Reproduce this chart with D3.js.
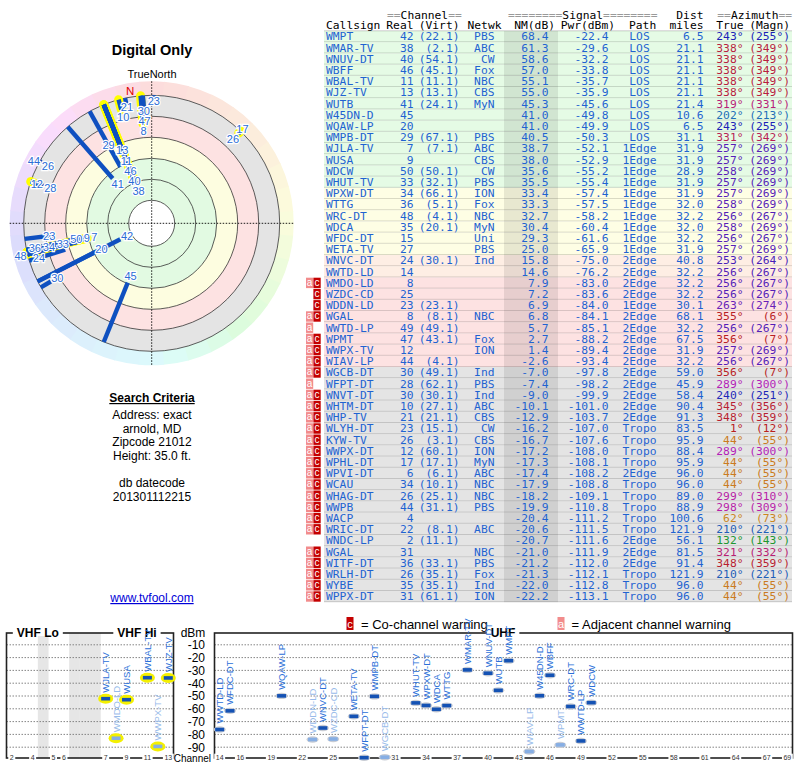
<!DOCTYPE html>
<html><head><meta charset="utf-8">
<script src="https://cdn.jsdelivr.net/npm/d3@7"></script>
<style>body{margin:0;background:#fff}svg{display:block}</style>
</head><body><svg id="c" width="800" height="768"></svg>
<script>
// ---------------- DATA ----------------
const callsigns = ["WMPT","WMAR-TV","WNUV-DT","WBFF","WBAL-TV","WJZ-TV","WUTB","W45DN-D","WQAW-LP","WMPB-DT","WJLA-TV","WUSA","WDCW","WHUT-TV","WPXW-DT","WTTG","WRC-DT","WDCA","WFDC-DT","WETA-TV","WNVC-DT","WWTD-LD","WMDO-LD","WZDC-CD","WDDN-LD","WGAL","WWTD-LP","WPMT","WWPX-TV","WIAV-LP","WGCB-DT","WFPT-DT","WNVT-DT","WHTM-DT","WHP-TV","WLYH-DT","KYW-TV","WWPX-DT","WPHL-DT","WPVI-DT","WCAU","WHAG-DT","WWPB","WACP","WRIC-DT","WNDC-LP","WGAL","WITF-DT","WRLH-DT","WYBE","WPPX-DT"];
const realCh = [42,38,40,46,11,13,41,45,20,29,7,9,50,33,34,36,48,35,15,27,24,14,8,25,23,8,49,47,12,44,30,28,30,10,21,23,26,12,17,6,34,26,44,4,22,2,31,36,26,35,31];
const virtCh = ["22.1","2.1","54.1","45.1","11.1","13.1","24.1","","","67.1","7.1","","50.1","32.1","66.1","5.1","4.1","20.1","","","30.1","","","","23.1","8.1","49.1","43.1","","4.1","49.1","62.1","30.1","27.1","21.1","15.1","3.1","60.1","17.1","6.1","10.1","25.1","31.1","","8.1","11.1","","33.1","35.1","35.1","61.1"];
const networks = ["PBS","ABC","CW","Fox","NBC","CBS","MyN","","","PBS","ABC","CBS","CW","PBS","ION","Fox","NBC","MyN","Uni","PBS","Ind","","","","","NBC","","Fox","ION","","Ind","PBS","Ind","ABC","CBS","CW","CBS","ION","MyN","ABC","NBC","NBC","PBS","","ABC","","NBC","PBS","Fox","Ind","ION"];
const nmDb = [68.4,61.3,58.6,57.0,55.1,55.0,45.3,41.0,41.0,40.5,38.7,38.0,35.6,35.5,33.4,33.3,32.7,30.4,29.3,25.0,15.8,14.6,7.9,7.2,6.9,6.8,5.7,2.7,1.4,-2.6,-7.0,-7.4,-9.0,-10.1,-12.9,-16.2,-16.7,-17.2,-17.3,-17.4,-17.9,-18.2,-19.9,-20.4,-20.6,-20.7,-21.0,-21.2,-21.3,-22.0,-22.2];
const pwrDbm = [-22.4,-29.6,-32.2,-33.8,-35.7,-35.9,-45.6,-49.8,-49.9,-50.3,-52.1,-52.9,-55.2,-55.4,-57.4,-57.5,-58.2,-60.4,-61.6,-65.9,-75.0,-76.2,-83.0,-83.6,-84.0,-84.1,-85.1,-88.2,-89.4,-93.4,-97.8,-98.2,-99.9,-101.0,-103.7,-107.0,-107.6,-108.0,-108.1,-108.2,-108.8,-109.1,-110.8,-111.2,-111.5,-111.6,-111.9,-112.0,-112.1,-112.8,-113.1];
const paths = ["LOS","LOS","LOS","LOS","LOS","LOS","LOS","LOS","LOS","LOS","1Edge","1Edge","1Edge","1Edge","1Edge","1Edge","1Edge","1Edge","1Edge","1Edge","2Edge","2Edge","2Edge","2Edge","1Edge","2Edge","2Edge","2Edge","2Edge","2Edge","2Edge","2Edge","2Edge","2Edge","2Edge","Tropo","Tropo","Tropo","Tropo","2Edge","Tropo","Tropo","Tropo","Tropo","Tropo","2Edge","2Edge","2Edge","Tropo","Tropo","Tropo"];
const distMiles = [6.5,21.1,21.1,21.1,21.1,21.1,21.4,10.6,6.5,31.1,31.9,31.9,28.9,31.9,31.9,32.0,32.2,32.0,32.2,31.9,40.8,32.2,32.2,32.2,30.1,68.1,32.2,67.5,31.9,32.2,59.0,45.9,58.4,90.4,91.3,83.5,95.9,88.4,95.9,96.0,96.0,89.0,88.9,100.6,121.9,56.1,81.5,91.4,121.9,96.0,96.0];
const azTrue = [243,338,338,338,338,338,319,202,243,331,257,257,258,257,257,258,256,258,256,257,253,256,256,256,263,355,256,356,257,256,356,289,240,345,348,1,44,289,44,44,44,299,298,62,210,132,321,348,210,44,44];
const azMagn = [255,349,349,349,349,349,331,213,255,342,269,269,269,269,269,269,267,269,267,269,264,267,267,267,274,6,267,7,269,267,7,300,251,356,359,12,55,300,55,55,55,310,309,73,221,143,332,359,221,55,55];
const warnFlags = ["","","","","","","","","","","","","","","","","","","","","","","ac","c","c","ac","a","ac","ac","ac","ac","a","ac","ac","ac","ac","ac","ac","ac","ac","ac","ac","ac","ac","ac","","ac","ac","ac","ac","ac"];
const vhfTicks = [2,4,5,6,7,9,11,13];
const uhfTicks = [14,16,19,22,25,28,31,34,37,40,43,46,49,52,55,58,61,64,67,69];
const dbmTicks = [-10,-20,-30,-40,-50,-60,-70,-80,-90];
const ringLevels = [-20,0,20,40,60,80];
const searchLines = ["Address: exact","arnold, MD","Zipcode 21012","Height: 35.0 ft."];
const datecodeLines = ["db datecode","201301112215"];

// ---------------- SETUP ----------------
const svg = d3.select("#c");
const SANS = "'Liberation Sans', Arial, sans-serif";
const MONO = "'DejaVu Sans Mono','Liberation Mono','Courier New',monospace";
const BLUE = "#1f63d1";
const probe = svg.append("text").attr("font-family",MONO).attr("font-size",100).text("0123456789");
const emRatio = probe.node().getComputedTextLength()/1000;
probe.remove();
const TFS = Math.min(12.5, Math.max(9, 6.8/emRatio));

const n = callsigns.length;
const rows = d3.range(n).map(i => ({
  i, call: callsigns[i], ch: realCh[i], virt: virtCh[i], net: networks[i], nm: nmDb[i],
  pwr: pwrDbm[i], path: paths[i], dist: distMiles[i], az: azTrue[i], mag: azMagn[i], flags: warnFlags[i]
}));

const hueAz = d3.scaleLinear()
  .domain([0,44,62,90,132,180,210,240,257,289,320,338,360])
  .range([0,32,36,60,128,190,215,236,262,298,325,347,360]);
function azColor(a){
  const h = hueAz(a) % 360;
  if (h > 20 && h < 80) return d3.hsl(h, 0.72, 0.46).toString();
  if (h >= 80 && h < 170) return d3.hsl(h, 0.65, 0.36).toString();
  return d3.hsl(h, 0.72, 0.42).toString();
}
const hueWheel = d3.scaleLinear()
  .domain([0,45,90,135,180,225,270,315,360])
  .range([0,28,65,115,185,212,250,300,360]);

// ---------------- TABLE ----------------
const table = svg.append("g");
const rowY = d3.scaleBand().domain(d3.range(n)).range([31, 31 + 11.2*n]);
const RH = rowY.bandwidth();
function rowBg(nm){
  if (nm >= 35) return "#e5fbe5";
  if (nm >= 20) return "#fefee4";
  if (nm >= 10) return "#feeee4";
  if (nm >= -5) return "#fde2e2";
  return "#e4e4e4";
}
table.selectAll("rect.bg").data(rows).join("rect").attr("class","bg")
  .attr("x",324).attr("width",468).attr("y",d=>rowY(d.i)).attr("height",RH)
  .attr("fill",d=>rowBg(d.nm));
table.selectAll("line.sep").data(rows).join("line").attr("class","sep")
  .attr("x1",324).attr("x2",792).attr("y1",d=>rowY(d.i)+RH-0.5).attr("y2",d=>rowY(d.i)+RH-0.5)
  .attr("stroke","rgba(0,0,0,0.14)").attr("stroke-width",1);
table.append("line").attr("x1",324).attr("x2",792).attr("y1",30.8).attr("y2",30.8)
  .attr("stroke","rgba(0,0,0,0.2)");
table.append("rect").attr("x",504).attr("width",54).attr("y",31).attr("height",RH*n)
  .attr("fill","rgba(0,0,0,0.085)");

const flagRows = rows.filter(d=>d.flags);
table.selectAll("rect.fa").data(flagRows.filter(d=>d.flags.includes("a"))).join("rect").attr("class","fa")
  .attr("x",306).attr("width",7.2).attr("y",d=>rowY(d.i)+0.3).attr("height",RH-0.8).attr("fill","#f28c8c");
table.selectAll("rect.fc").data(flagRows.filter(d=>d.flags.includes("c"))).join("rect").attr("class","fc")
  .attr("x",313.4).attr("width",7.3).attr("y",d=>rowY(d.i)+0.3).attr("height",RH-0.8).attr("fill","#c40000");
table.selectAll("text.ta").data(flagRows.filter(d=>d.flags.includes("a"))).join("text").attr("class","ta")
  .attr("x",309.6).attr("y",d=>rowY(d.i)+8.4).attr("text-anchor","middle")
  .attr("font-family",SANS).attr("font-size",10).attr("fill","#fff").text("a");
table.selectAll("text.tc").data(flagRows.filter(d=>d.flags.includes("c"))).join("text").attr("class","tc")
  .attr("x",317).attr("y",d=>rowY(d.i)+8.4).attr("text-anchor","middle")
  .attr("font-family",SANS).attr("font-size",10).attr("fill","#fff").text("c");

const cols = [
  {x:326, a:"start", f:d=>d.call},
  {x:413.5, a:"end", f:d=>String(d.ch)},
  {x:459.5, a:"end", f:d=>d.virt ? "("+d.virt+")" : ""},
  {x:494.5, a:"end", f:d=>d.net},
  {x:548.5, a:"end", f:d=>d.nm.toFixed(1)},
  {x:608.5, a:"end", f:d=>d.pwr.toFixed(1)},
  {x:639.5, a:"middle", f:d=>d.path},
  {x:703.5, a:"end", f:d=>d.dist.toFixed(1)},
  {x:743.5, a:"end", f:d=>d.az+"°", c:d=>azColor(d.az)},
  {x:790, a:"end", f:d=>"("+d.mag+"°)", c:d=>azColor(d.az)}
];
cols.forEach((c,k)=>{
  table.selectAll("text.col"+k).data(rows.filter(d=>c.f(d)!=="")).join("text").attr("class","col"+k)
    .attr("x",c.x).attr("y",d=>rowY(d.i)+9.3).attr("text-anchor",c.a)
    .attr("font-family",MONO).attr("font-size",TFS)
    .attr("fill",d=>c.c ? c.c(d) : BLUE).text(c.f);
});
function hdr(x,y,anchor,parts){
  const t = table.append("text").attr("x",x).attr("y",y).attr("text-anchor",anchor)
    .attr("font-family",MONO).attr("font-size",TFS).attr("xml:space","preserve");
  parts.forEach(p=>t.append("tspan").attr("fill",p[1]||"#000").text(p[0]));
}
const EQ = "#9a9a9a";
hdr(387,18.8,"start",[["==",EQ],["Channel"],["==",EQ]]);
hdr(508,18.8,"start",[["========",EQ],["Signal"],["========",EQ]]);
hdr(703.5,18.8,"end",[["Dist"]]);
hdr(717.3,18.8,"start",[["==",EQ],["Azimuth"],["==",EQ]]);
hdr(326,29.2,"start",[["Callsign"]]);
hdr(413.5,29.2,"end",[["Real"]]);
hdr(459.5,29.2,"end",[["(Virt)"]]);
hdr(501.5,29.2,"end",[["Netwk"]]);
hdr(555,29.2,"end",[["NM(dB)"]]);
hdr(615,29.2,"end",[["Pwr(dBm)"]]);
hdr(629,29.2,"start",[["Path"]]);
hdr(703.5,29.2,"end",[["miles"]]);
hdr(743.5,29.2,"end",[["True"]]);
hdr(790,29.2,"end",[["(Magn)"]]);

// ---------------- LEFT TEXTS ----------------
const left = svg.append("g").attr("font-family",SANS).attr("text-anchor","middle");
left.append("text").attr("x",152).attr("y",55).attr("font-size",14.5).attr("font-weight","bold").text("Digital Only");
left.append("text").attr("x",152).attr("y",78).attr("font-size",11).text("TrueNorth");
left.append("text").attr("x",152).attr("y",402).attr("font-size",12).attr("font-weight","bold")
  .attr("text-decoration","underline").text("Search Criteria");
left.selectAll("text.sl").data(searchLines).join("text").attr("class","sl")
  .attr("x",152).attr("y",(d,i)=>419+i*13.6).attr("font-size",12).text(d=>d);
left.selectAll("text.dl").data(datecodeLines).join("text").attr("class","dl")
  .attr("x",152).attr("y",(d,i)=>487+i*13.6).attr("font-size",12).text(d=>d);
left.append("text").attr("x",152).attr("y",602).attr("font-size",12).attr("fill","#0000d8")
  .attr("text-decoration","underline").text("www.tvfool.com");

// ---------------- POLAR ----------------
const cx = 151.7, cy = 223.3, ROUT = 142;
const rS = d3.scaleLinear().domain([-20,80]).range([128,23]);
const polar = svg.append("g").attr("transform",`translate(${cx},${cy})`);
const arcGen = d3.arc();
const wheelSteps = d3.range(0,360,10);
polar.selectAll("path.wh").data(wheelSteps).join("path").attr("class","wh")
  .attr("d",a=>arcGen({innerRadius:rS(-20),outerRadius:ROUT,startAngle:(a-5)*Math.PI/180,endAngle:(a+5.3)*Math.PI/180}))
  .attr("fill",a=>d3.hsl(hueWheel(a)%360,0.85,0.925).toString());
const zones = [[-20,"#e4e4e4"],[0,"#fde2e2"],[20,"#fdfde0"],[40,"#e2fae2"],[80,"#ffffff"]];
polar.selectAll("circle.zone").data(zones).join("circle").attr("class","zone")
  .attr("r",d=>rS(d[0])).attr("fill",d=>d[1]);
polar.selectAll("circle.ring").data(ringLevels).join("circle").attr("class","ring")
  .attr("r",d=>rS(d)).attr("fill","none").attr("stroke","#333").attr("stroke-width",0.8);
polar.append("line").attr("x1",-ROUT).attr("x2",ROUT).attr("y1",0).attr("y2",0)
  .attr("stroke","#000").attr("stroke-width",0.9).attr("stroke-dasharray","1.5,1.5");
polar.append("line").attr("y1",-ROUT).attr("y2",ROUT).attr("x1",0).attr("x2",0)
  .attr("stroke","#000").attr("stroke-width",0.9).attr("stroke-dasharray","1.5,1.5");
polar.append("text").attr("x",-21.5).attr("y",-128).attr("font-family",SANS).attr("font-size",11.5)
  .attr("fill","#e00000").attr("text-anchor","middle").text("N");

const pst = rows.filter(d=>d.nm >= -20);
const ux = d => Math.sin(d.az*Math.PI/180), uy = d => -Math.cos(d.az*Math.PI/180);
svg.append("clipPath").attr("id","pclip").append("circle").attr("r",ROUT);
const pg = polar.append("g").attr("clip-path","url(#pclip)");
pg.selectAll("line.halo").data(pst.filter(d=>d.ch<=13)).join("line").attr("class","halo")
  .attr("x1",d=>ux(d)*rS(-20)).attr("y1",d=>uy(d)*rS(-20))
  .attr("x2",d=>ux(d)*rS(d.nm)).attr("y2",d=>uy(d)*rS(d.nm))
  .attr("stroke","#ffff00").attr("stroke-width",9).attr("stroke-linecap","round");
pg.selectAll("line.bar").data(pst).join("line").attr("class","bar")
  .attr("x1",d=>ux(d)*rS(-20)).attr("y1",d=>uy(d)*rS(-20))
  .attr("x2",d=>ux(d)*rS(d.nm)).attr("y2",d=>uy(d)*rS(d.nm))
  .attr("stroke","#0f50c0").attr("stroke-width",4.4);
const placed = [];
pst.forEach(d=>{
  const w = 6.2*String(d.ch).length + 1, h = 9.5;
  let r = rS(d.nm) - 7.5, x, y;
  for (let k=0;k<300;k++){
    x = ux(d)*r; y = uy(d)*r;
    if (!placed.some(p=>Math.abs(p.x-x) < (p.w+w)/2 && Math.abs(p.y-y) < (p.h+h)/2)) break;
    r += 1;
  }
  placed.push({x,y,w,h,r,ch:d.ch});
});
pg.selectAll("text.pl").data(placed.filter(p=>p.r <= ROUT-3)).join("text").attr("class","pl")
  .attr("x",d=>d.x).attr("y",d=>d.y).attr("text-anchor","middle").attr("dominant-baseline","central")
  .attr("font-family",SANS).attr("font-size",11).attr("fill","#2a6cd6")
  .attr("stroke","#fff").attr("stroke-width",2.4).attr("paint-order","stroke").text(d=>d.ch);

// ---------------- BOTTOM CHARTS ----------------
const bot = svg.append("g");
const yB = d3.scaleLinear().domain([0,-100]).range([632,760]);
const vhfSlots = ["2","3","4","g1","5","6","g2","g3","g4","7","8","9","10","11","12","13"];
const xV = d3.scaleBand().domain(vhfSlots).range([6.5,173.5]);
const xU = d3.scaleBand().domain(d3.range(14,70).map(String)).range([214.5,792.5]);
const FT = 633, FB = 758;
bot.selectAll("rect.gap").data(vhfSlots.filter(s=>s[0]==="g")).join("rect").attr("class","gap")
  .attr("x",s=>xV(s)).attr("width",xV.bandwidth()+0.3).attr("y",FT).attr("height",FB-FT).attr("fill","#e6e6e6");
[[6.5,173.5],[214.5,792.5]].forEach(([a,b])=>{
  bot.append("g").selectAll("line").data(dbmTicks).join("line")
    .attr("x1",a).attr("x2",b).attr("y1",d=>yB(d)).attr("y2",d=>yB(d))
    .attr("stroke","#777").attr("stroke-width",0.9).attr("stroke-dasharray","1.5,1.5");
});
[[6.5,173.5],[214.5,792.5]].forEach(([a,b])=>{
  bot.append("rect").attr("x",a).attr("y",FT).attr("width",b-a).attr("height",FB-FT)
    .attr("fill","none").attr("stroke","#222").attr("stroke-width",1.6);
});
function title(x,txt){
  const t = bot.append("text").attr("x",x).attr("y",637).attr("text-anchor","middle")
    .attr("font-family",SANS).attr("font-size",12).attr("font-weight","bold").text(txt);
  const bb = t.node().getBBox();
  bot.insert("rect",()=>t.node()).attr("x",bb.x-4).attr("y",FT-3).attr("width",bb.width+8).attr("height",6).attr("fill","#fff");
}
title((xV("2")+xV("g2"))/2,"VHF Lo");
title((xV("7")+xV("13")+xV.bandwidth())/2,"VHF Hi");
title(503,"UHF");
const ya = bot.append("g").attr("transform","translate(205,0)")
  .call(d3.axisLeft(yB).tickValues(dbmTicks).tickSize(0).tickPadding(0).tickFormat(d=>d));
ya.select(".domain").remove();
ya.selectAll("text").attr("font-family",SANS).attr("font-size",12).attr("fill","#000");
bot.append("text").attr("x",193).attr("y",637).attr("text-anchor","middle").attr("font-family",SANS)
  .attr("font-size",12).text("dBm");
bot.append("text").attr("x",211).attr("y",761.5).attr("text-anchor","end").attr("font-family",SANS)
  .attr("font-size",10).text("Channel");
function chAxis(scale, ticks){
  const g = bot.append("g").attr("transform",`translate(0,${FB-3.3})`)
    .call(d3.axisBottom(scale).tickValues(ticks.map(String)).tickSize(0).tickPadding(0));
  g.select(".domain").remove();
  g.selectAll("text").attr("font-family",SANS).attr("font-size",7).attr("fill","#333");
  g.selectAll(".tick").each(function(){
    const t = d3.select(this).select("text").node();
    const bb = t.getBBox();
    d3.select(this).insert("rect","text").attr("x",bb.x-1.5).attr("y",bb.y).attr("width",bb.width+3).attr("height",bb.height).attr("fill","#fff");
  });
}
chAxis(xV, vhfTicks);
chAxis(xU, uhfTicks);
const lg = bot.append("g").attr("font-family",SANS);
lg.append("rect").attr("x",346.5).attr("y",617).attr("width",7).attr("height",13).attr("fill","#c40000");
lg.append("text").attr("x",350).attr("y",627.5).attr("text-anchor","middle").attr("font-size",11).attr("fill","#fff").text("c");
lg.append("text").attr("x",361).attr("y",628.5).attr("font-size",13).attr("fill","#000").text("= Co-channel warning");
lg.append("rect").attr("x",557.5).attr("y",617).attr("width",7).attr("height",13).attr("fill","#f28c8c");
lg.append("text").attr("x",561).attr("y",627.5).attr("text-anchor","middle").attr("font-size",11).attr("fill","#fff").text("a");
lg.append("text").attr("x",571.5).attr("y",628.5).attr("font-size",13).attr("fill","#000").text("= Adjacent channel warning");

const seen = new Set();
const mk = rows.filter(d=>d.pwr > -99).filter(d=>{ if (seen.has(d.ch)) return false; seen.add(d.ch); return true; });
const mx = d => d.ch <= 13 ? xV(String(d.ch)) + xV.bandwidth()/2 : xU(String(d.ch)) + xU.bandwidth()/2;
const faded = d => d.flags.includes("c");
bot.selectAll("ellipse.mh").data(mk).join("ellipse").attr("class","mh")
  .attr("cx",mx).attr("cy",d=>yB(d.pwr)).attr("rx",d=>d.ch<=13?7.5:6).attr("ry",d=>d.ch<=13?5:3.2)
  .attr("fill",d=>d.ch<=13 ? "#f4f000" : "#c8ccd4");
bot.selectAll("rect.mk").data(mk).join("rect").attr("class","mk")
  .attr("x",d=>mx(d)-4.5).attr("y",d=>yB(d.pwr)-1.8).attr("width",9).attr("height",3.6)
  .attr("fill",d=>faded(d) ? "#86aee4" : "#1452b4");
bot.selectAll("text.ml").data(mk).join("text").attr("class","ml")
  .attr("transform",d=>`translate(${mx(d)},${yB(d.pwr)-6}) rotate(-90)`)
  .attr("dominant-baseline","central").attr("font-family",SANS).attr("font-size",9.5)
  .attr("fill",d=>faded(d) ? "#98bbea" : "#2a6fd8").text(d=>d.call);
</script></body></html>
